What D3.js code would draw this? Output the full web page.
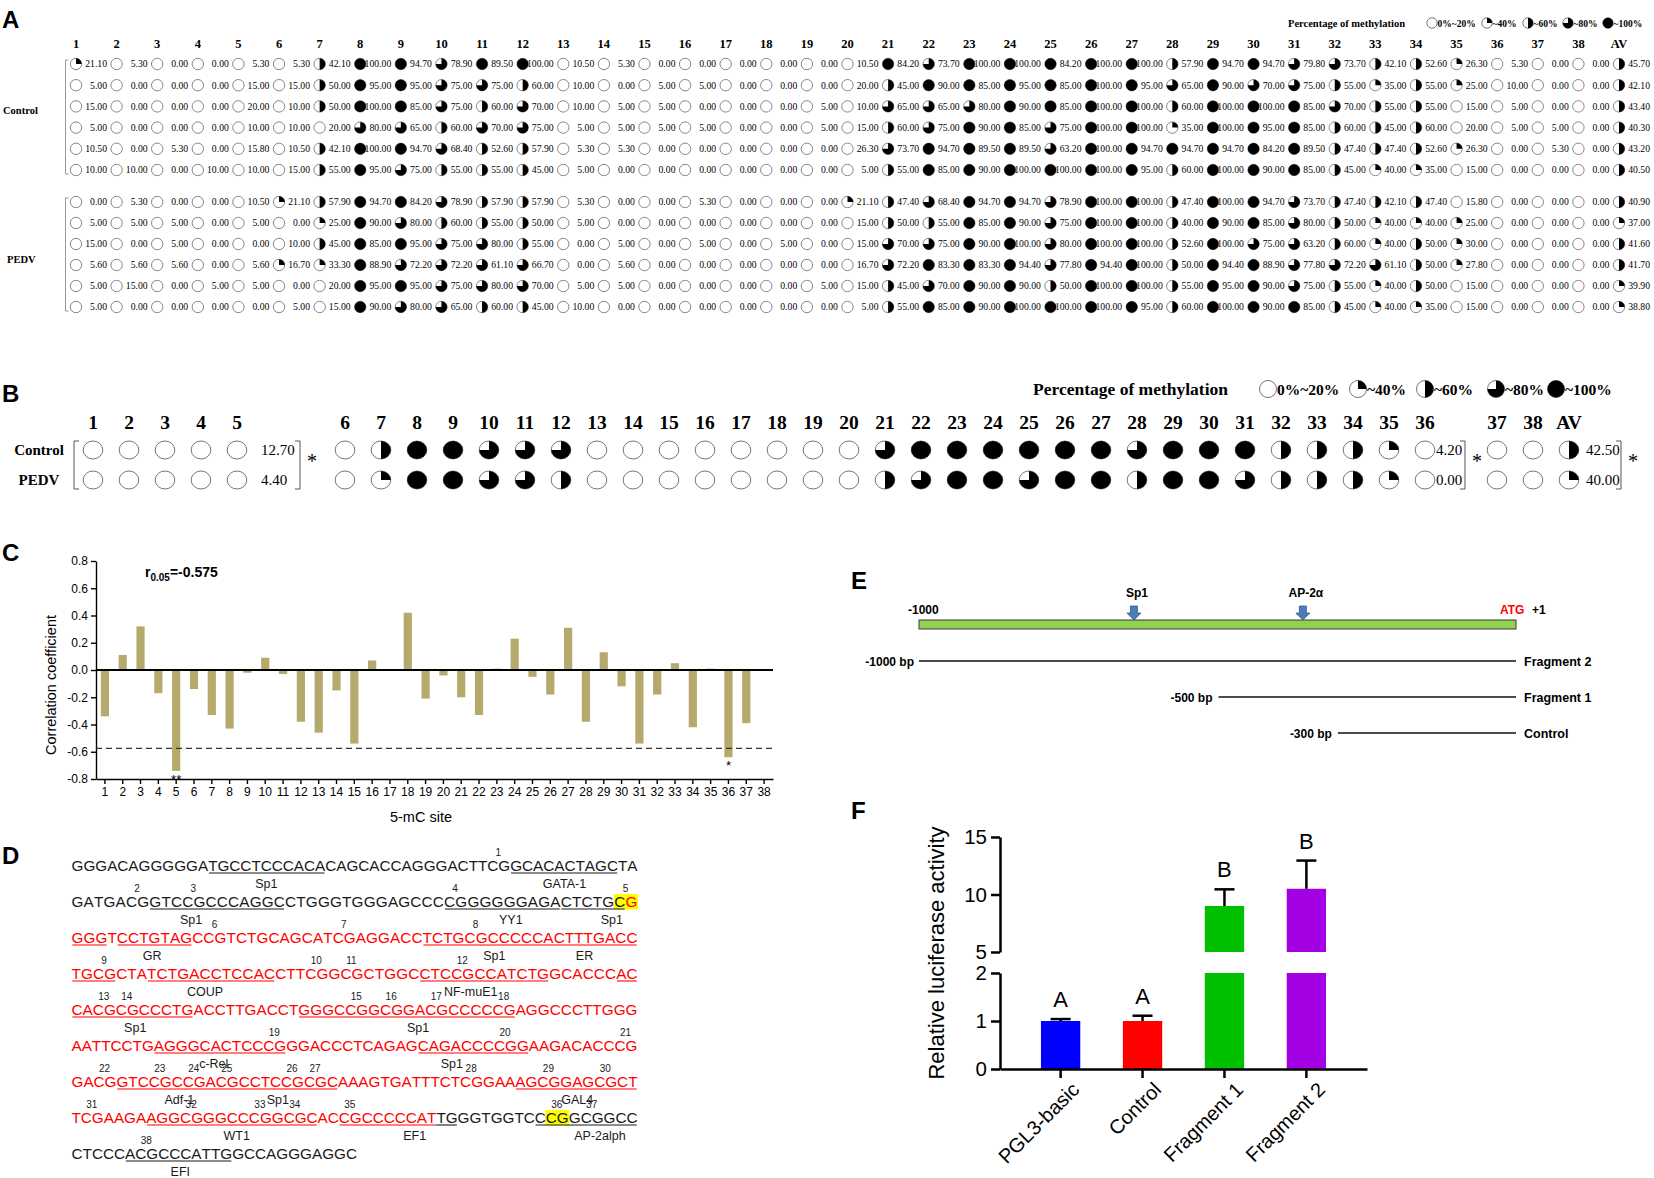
<!DOCTYPE html>
<html><head><meta charset="utf-8">
<script src="https://cdn.jsdelivr.net/npm/d3@7/dist/d3.min.js"></script>
<style>body{margin:0;background:#fff}svg{display:block}</style>
</head><body>
<svg id="fig" width="1654" height="1178"></svg>
<script>
// ================= DATA =================
// Panel A
const aSites = ["1","2","3","4","5","6","7","8","9","10","11","12","13","14","15","16","17","18","19","20","21","22","23","24","25","26","27","28","29","30","31","32","33","34","35","36","37","38","AV"];
const controlRows = [
[21.10,5.30,0,0,5.30,5.30,42.10,100,94.70,78.90,89.50,100,10.50,5.30,0,0,0,0,0,10.50,84.20,73.70,100,100,84.20,100,100,57.90,94.70,94.70,79.80,73.70,42.10,52.60,26.30,5.30,0,0,45.70],
[5,0,0,0,15,15,50,95,95,75,75,60,10,0,5,5,0,0,0,20,45,90,85,95,85,100,95,65,90,70,75,55,35,55,25,10,0,0,42.10],
[15,0,0,0,20,10,50,100,85,75,60,70,10,5,5,0,0,0,5,10,65,65,80,90,85,100,100,60,100,100,85,70,55,55,15,5,0,0,43.40],
[5,0,0,0,10,10,20,80,65,60,70,75,5,5,5,5,0,0,5,15,60,75,90,85,75,100,100,35,100,95,85,60,45,60,20,5,5,0,40.30],
[10.50,0,5.30,0,15.80,10.50,42.10,100,94.70,68.40,52.60,57.90,5.30,5.30,0,0,0,0,0,26.30,73.70,94.70,89.50,89.50,63.20,100,94.70,94.70,94.70,84.20,89.50,47.40,47.40,52.60,26.30,0,5.30,0,43.20],
[10,10,0,10,10,15,55,95,75,55,55,45,5,0,0,0,0,0,0,5,55,85,90,100,100,100,95,60,100,90,85,45,40,35,15,0,0,0,40.50]
];
const pedvRows = [
[0,5.30,0,0,10.50,21.10,57.90,94.70,84.20,78.90,57.90,57.90,5.30,0,0,5.30,0,0,0,21.10,47.40,68.40,94.70,94.70,78.90,100,100,47.40,100,94.70,73.70,47.40,42.10,47.40,15.80,0,0,0,40.90],
[5,5,5,0,5,0,25,90,80,60,55,50,5,0,0,0,0,0,0,15,50,55,85,90,75,100,100,40,90,85,80,50,40,40,25,0,0,0,37.00],
[15,0,5,0,0,10,45,85,95,75,80,55,0,5,0,5,0,5,0,15,70,75,90,100,80,100,100,52.60,100,75,63.20,60,40,50,30,0,0,0,41.60],
[5.60,5.60,5.60,0,5.60,16.70,33.30,88.90,72.20,72.20,61.10,66.70,0,5.60,0,0,0,0,0,16.70,72.20,83.30,83.30,94.40,77.80,94.40,100,50,94.40,88.90,77.80,72.20,61.10,50,27.80,0,0,0,41.70],
[5,15,0,5,5,0,20,95,95,75,80,70,5,5,0,0,0,0,5,15,45,70,90,90,50,100,100,55,95,90,75,55,40,50,15,0,0,0,39.90],
[5,0,0,0,0,5,15,90,80,65,60,45,10,0,0,0,0,0,0,5,55,85,90,100,100,100,95,60,100,90,85,45,40,35,15,0,0,0,38.80]
];
// glyph drawn differently from the legend rule in the original: [group,row,col,level]
const glyphOverrides = [["control",4,19,0],["pedv",3,5,1],["pedv",1,27,2]];
const legendLabels = ["0%~20%","~40%","~60%","~80%","~100%"];
const legendLevels = [0,1,2,3,4];

// Panel B (glyph levels 0..4)
const bSites = aSites;
const bControlLevels = [0,0,0,0,0, 0,2,4,4,3,3,3, 0,0,0,0,0,0,0,0, 3,4,4,4,4,4,4,3,4,4,4, 2,2,2,1,0, 0,0, 2];
const bPedvLevels    = [0,0,0,0,0, 0,1,4,4,3,3,2, 0,0,0,0,0,0,0,0, 2,3,4,4,3,4,4,2,4,4,3, 2,2,2,1,0, 0,0, 1];
const bValueSites = ["5","36","AV"];
const bControlValues = ["12.70","4.20","42.50"];
const bPedvValues = ["4.40","0.00","40.00"];

// Panel C
const corrSites = d3.range(1,39).map(String);
const corrValues = [-0.34,0.11,0.32,-0.17,-0.74,-0.14,-0.33,-0.43,-0.02,0.09,-0.03,-0.38,-0.46,-0.15,-0.54,0.07,0,0.42,-0.21,-0.04,-0.20,-0.33,0.01,0.23,-0.05,-0.18,0.31,-0.38,0.13,-0.12,-0.54,-0.18,0.05,-0.42,0.01,-0.64,-0.39,0];
const corrTicks = [-0.8,-0.6,-0.4,-0.2,0,0.2,0.4,0.6,0.8];
const corrThreshold = -0.575;
const corrMarkSites = ["5","36"];
const corrMarks = ["**","*"];

// Panel D
const seqLines = [
"GGGACAGGGGGATGCCTCCCACACAGCACCAGGGACTTCGGCACACTAGCTA",
"GATGACGGTCCGCCCAGGCCTGGGTGGGAGCCCCGGGGGGAGACTCTGCG",
"GGGTCCTGTAGCCGTCTGCAGCATCGAGGACCTCTGCGCCCCCACTTTGACC",
"TGCGCTATCTGACCTCCACCTTCGGCGCTGGCCTCCGCCATCTGGCACCCAC",
"CACGCGCCCTGACCTTGACCTGGGCCGGCGGACGCCCCCGAGGCCCTTGGG",
"AATTCCTGAGGGCACTCCCGGGACCCTCAGAGCAGACCCCGGAAGACACCCG",
"GACGGTCCGCCGACGCCTCCGCGCAAAGTGATTTCTCGGAAAGCGGAGCGCT",
"TCGAAGAAGGCGGGCCCGGCGCACCGCCCCCATTGGGTGGTCCCGGCGGCC",
"CTCCCACGCCCATTGGCCAGGGAGGC"];
const seqRed = [null,[49,49],[0,51],[0,51],[0,50],[0,51],[0,51],[0,32],null];
const seqUnderlines = [
[[12,22],[40,49]],
[[7,18],[33,42],[43,48]],
[[0,2],[4,10],[32,51]],
[[0,3],[7,18],[32,43],[50,51]],
[[0,10],[21,39]],
[[8,19],[32,41]],
[[4,23],[41,51]],
[[7,21],[24,34],[42,50]],
[[5,14]]];
const seqHighlights = [[],[[48,49]],[],[],[],[],[],[[43,44]],[]];
const seqSites = [
[[38,1]],
[[5,2],[10,3],[33,4],[48,5]],
[[12,6],[24,7],[36,8]],
[[2,9],[22,10],[25,11],[35,12]],
[[2,13],[4,14],[25,15],[28,16],[32,17],[38,18]],
[[18,19],[39,20],[50,21]],
[[2,22],[7,23],[10,24],[13,25],[19,26],[21,27],[36,28],[43,29],[48,30]],
[[1,31],[10,32],[16,33],[19,34],[24,35],[43,36],[46,37]],
[[6,38]]];
const seqLabels = [
[[17.5,"Sp1"],[45,"GATA-1"]],
[[10.8,"Sp1"],[38.6,"YY1"],[47.8,"Sp1"]],
[[7.3,"GR"],[38.6,"Sp1"],[47.1,"ER"]],
[[12.5,"COUP"],[36.7,"NF-muE1"]],
[[5.7,"Sp1"],[31.3,"Sp1"]],
[[13.3,"c-Rel"],[35.1,"Sp1"]],
[[9.7,"Adf-1"],[18.7,"Sp1"],[46.5,"GAL4"]],
[[14.9,"WT1"],[30.8,"EF1"],[47.7,"AP-2alph"]],
[[10,"EFI"]]];

// Panel E
const promoterDomain = [-1000, 0];
const motifNames = ["Sp1","AP-2\u03b1"];
const motifPositions = [-640,-357];
const fragmentNames = ["Fragment 2","Fragment 1","Control"];
const fragmentStarts = [-1000,-500,-300];
const fragmentStartLabels = ["-1000 bp","-500 bp","-300 bp"];

// Panel F
const lucGroups = ["PGL3-basic","Control","Fragment 1","Fragment 2"];
const lucMeans = [1.0,1.0,9.0,10.5];
const lucErrors = [0.04,0.11,1.45,2.45];
const lucLetters = ["A","A","B","B"];
const lucColors = ["#0000ff","#ff0000","#00c000","#a300e3"];
const lucLowTicks = [0,1,2];
const lucHighTicks = [5,10,15];

// ================= DRAWING =================
const SANS = "'Liberation Sans', Arial, Helvetica, sans-serif";
const SERIF = "'Liberation Serif', 'Times New Roman', serif";
const svg = d3.select("#fig");
svg.append("rect").attr("width",1654).attr("height",1178).attr("fill","#fff");

function levelOf(v){ return v<=20?0 : v<=40?1 : v<=60?2 : v<=80?3 : 4; }
const arcGen = d3.arc();
function glyph(g, x, y, rx, ry, level, stroke){
  const gg = g.append("g").attr("transform",`translate(${x},${y}) scale(${rx},${ry})`);
  gg.append("circle").attr("r",1).attr("fill","#fff").attr("stroke",stroke)
    .attr("stroke-width",1).attr("vector-effect","non-scaling-stroke");
  if(level>0){
    gg.append("path").attr("d",arcGen({innerRadius:0,outerRadius:1,startAngle:0,endAngle:level*Math.PI/2}))
      .attr("fill","#000");
  }
}
function panelLabel(t,x,y){
  svg.append("text").attr("x",x).attr("y",y).text(t)
    .attr("font-family",SANS).attr("font-weight","bold").attr("font-size",24).attr("fill","#000");
}

// ---------- Panel A ----------
(function(){
  const g = svg.append("g");
  panelLabel("A",2,28);
  const x = d3.scalePoint().domain(aSites).range([76,1619]);
  const yC = d3.scalePoint().domain(d3.range(6)).range([64,170]);
  const yP = d3.scalePoint().domain(d3.range(6)).range([202,307]);
  g.selectAll("text.h").data(aSites).join("text")
    .attr("x",d=>x(d)).attr("y",48).attr("text-anchor","middle")
    .attr("font-family",SERIF).attr("font-weight","bold").attr("font-size",12.5).text(d=>d);
  g.append("text").attr("x",1288).attr("y",26.5).text("Percentage of methylation")
    .attr("font-family",SERIF).attr("font-weight","bold").attr("font-size",10.5);
  const lgx = [1432,1487,1528,1568,1608];
  legendLevels.forEach((lv,i)=>{
    glyph(g,lgx[i],23,5.2,5.2,lv,"#777");
    g.append("text").attr("x",lgx[i]+5.5).attr("y",26.5).text(legendLabels[i])
      .attr("font-family",SERIF).attr("font-weight","bold").attr("font-size",9.5);
  });
  function drawGroup(rows, yS, name){
    rows.forEach((row,ri)=>{
      row.forEach((v,ci)=>{
        let lv = levelOf(v);
        glyphOverrides.forEach(o=>{ if(o[0]===name && o[1]===ri && o[2]===ci) lv=o[3]; });
        const cx = x(aSites[ci]), cy = yS(ri);
        glyph(g,cx,cy,5.7,5.7,lv,"#888");
        g.append("text").attr("x",cx+31).attr("y",cy+3.4).attr("text-anchor","end")
          .attr("font-family",SERIF).attr("font-size",9.7).text(v.toFixed(2));
      });
    });
  }
  drawGroup(controlRows,yC,"control");
  drawGroup(pedvRows,yP,"pedv");
  g.append("text").attr("x",3).attr("y",114).text("Control")
    .attr("font-family",SERIF).attr("font-weight","bold").attr("font-size",10.5);
  g.append("text").attr("x",7).attr("y",263).text("PEDV")
    .attr("font-family",SERIF).attr("font-weight","bold").attr("font-size",10.5);
  [[yC(0)-4,yC(5)+4],[yP(0)-4,yP(5)+4]].forEach(([a,b])=>{
    g.append("path").attr("d",`M68.5,${a}H65.5V${b}H68.5`).attr("fill","none").attr("stroke","#999").attr("stroke-width",1);
  });
})();

// ---------- Panel B ----------
(function(){
  const g = svg.append("g");
  panelLabel("B",2,402);
  const slots = ["1","2","3","4","5","g1","g2"].concat(d3.range(6,37).map(String)).concat(["g3","37","38","AV"]);
  const x = d3.scalePoint().domain(slots).range([93,1569]);
  const yRow = d3.scalePoint().domain(["Control","PEDV"]).range([450,480]);
  g.selectAll("text.h").data(bSites).join("text")
    .attr("x",d=>x(d)).attr("y",429).attr("text-anchor","middle")
    .attr("font-family",SERIF).attr("font-weight","bold").attr("font-size",19.5).text(d=>d);
  g.append("text").attr("x",1033).attr("y",395).text("Percentage of methylation")
    .attr("font-family",SERIF).attr("font-weight","bold").attr("font-size",17.5);
  const lgx = [1268,1358,1425,1496,1556];
  legendLevels.forEach((lv,i)=>{
    glyph(g,lgx[i],389,8.5,8.5,lv,"#777");
    g.append("text").attr("x",lgx[i]+9).attr("y",395).text(legendLabels[i])
      .attr("font-family",SERIF).attr("font-weight","bold").attr("font-size",15.5);
  });
  [["Control",bControlLevels,bControlValues],["PEDV",bPedvLevels,bPedvValues]].forEach(([name,lv,vals])=>{
    const cy = yRow(name);
    bSites.forEach((s,i)=> glyph(g,x(s),cy,9.8,9,lv[i],"#777"));
    g.append("text").attr("x",39).attr("y",cy+5).attr("text-anchor","middle").text(name)
      .attr("font-family",SERIF).attr("font-weight","bold").attr("font-size",15);
    const off = {"5":24,"36":11,"AV":17};
    bValueSites.forEach((s,i)=>{
      g.append("text").attr("x",x(s)+off[s]).attr("y",cy+5).text(vals[i])
        .attr("font-family",SERIF).attr("font-size",15);
    });
  });
  const top = yRow("Control")-9, bot = yRow("PEDV")+9;
  g.append("path").attr("d",`M79,${top}H74V${bot}H79`).attr("fill","none").attr("stroke","#555").attr("stroke-width",1);
  [x("5")+63, x("36")+40, x("AV")+52].forEach(bx=>{
    g.append("path").attr("d",`M${bx-5},${top}H${bx}V${bot}H${bx-5}`).attr("fill","none").attr("stroke","#555").attr("stroke-width",1);
    g.append("text").attr("x",bx+12).attr("y",top+27).attr("text-anchor","middle").text("*")
      .attr("font-family",SERIF).attr("font-size",20);
  });
})();

// ---------- Panel C ----------
(function(){
  const g = svg.append("g");
  panelLabel("C",2,561);
  const x = d3.scaleBand().domain(corrSites).range([96,773]).paddingInner(0.54).paddingOuter(0.27);
  const y = d3.scaleLinear().domain([-0.8,0.8]).range([779,561]);
  g.selectAll("rect.bar").data(corrValues).join("rect")
    .attr("x",(d,i)=>x(corrSites[i])).attr("width",x.bandwidth())
    .attr("y",d=>y(Math.max(0,d))).attr("height",d=>Math.abs(y(d)-y(0)))
    .attr("fill","#b6a96c");
  const ya = g.append("g").attr("transform","translate(96,0)")
    .call(d3.axisLeft(y).tickValues(corrTicks).tickFormat(d=>d.toFixed(1)).tickSize(5).tickSizeOuter(0));
  const xa = g.append("g").attr("transform",`translate(0,${y(-0.8)})`)
    .call(d3.axisBottom(x).tickSize(5).tickSizeOuter(0));
  [ya,xa].forEach(a=>{
    a.selectAll("path,line").attr("stroke","#000").attr("stroke-width",1.4);
    a.selectAll("text").attr("font-family",SANS).attr("font-size",12).attr("fill","#000");
  });
  g.append("line").attr("x1",96).attr("x2",773).attr("y1",y(0)).attr("y2",y(0)).attr("stroke","#000").attr("stroke-width",2);
  g.append("line").attr("x1",96).attr("x2",773).attr("y1",y(corrThreshold)).attr("y2",y(corrThreshold))
    .attr("stroke","#333").attr("stroke-width",1.3).attr("stroke-dasharray","6,4");
  corrMarkSites.forEach((s,i)=>{
    const v = corrValues[corrSites.indexOf(s)];
    g.append("text").attr("x",x(s)+x.bandwidth()/2).attr("y",y(v)+13).attr("text-anchor","middle")
      .attr("font-family",SANS).attr("font-size",13).text(corrMarks[i]);
  });
  const t = g.append("text").attr("x",145).attr("y",577).attr("font-family",SANS).attr("font-weight","bold").attr("font-size",14);
  t.append("tspan").text("r");
  t.append("tspan").attr("dy",4).attr("font-size",10).text("0.05");
  t.append("tspan").attr("dy",-4).text("=-0.575");
  g.append("text").attr("transform","translate(56,685) rotate(-90)").attr("text-anchor","middle")
    .attr("font-family",SANS).attr("font-size",14.5).text("Correlation coefficient");
  g.append("text").attr("x",421).attr("y",822).attr("text-anchor","middle")
    .attr("font-family",SANS).attr("font-size",14.5).text("5-mC site");
})();

// ---------- Panel D ----------
(function(){
  const g = svg.append("g");
  panelLabel("D",2,864);
  const FS = 15.3, x0 = 71.5, fullW = 566, y0 = 865, step = 36;
  const tmp = svg.append("text").attr("font-family",SANS).attr("font-size",FS);
  const cw = {};
  "ACGT".split("").forEach(c=>{ tmp.text(c.repeat(10)); cw[c] = tmp.node().getComputedTextLength()/10; });
  tmp.remove();
  seqLines.forEach((str,li)=>{
    const cy = y0 + li*step, base = cy + 5.5;
    const w = str.split("").map(c=>cw[c]);
    const nat = d3.sum(w);
    const extra = str.length>=50 ? (fullW-nat)/(str.length-1) : 0;
    const pos = []; let acc = x0;
    w.forEach((ww,i)=>{ pos.push(acc); acc += ww + extra; });
    const red = seqRed[li];
    const colorOf = i => (red && i>=red[0] && i<=red[1]) ? "#ff0000" : "#1a1a1a";
    seqHighlights[li].forEach(([a,b])=>{
      g.append("rect").attr("x",pos[a]-0.5).attr("width",pos[b]+w[b]-pos[a]+1)
        .attr("y",base-12.5).attr("height",15.5).attr("fill","#ffff00");
    });
    const t = g.append("text").attr("y",base).attr("font-family",SANS).attr("font-size",FS);
    let runStart = 0;
    for(let i=1;i<=str.length;i++){
      if(i===str.length || colorOf(i)!==colorOf(runStart)){
        t.append("tspan").attr("x",pos.slice(runStart,i).join(" ")).attr("fill",colorOf(runStart))
          .text(str.slice(runStart,i));
        runStart = i;
      }
    }
    seqUnderlines[li].forEach(([a,b])=>{
      let s = a;
      for(let i=a+1;i<=b+1;i++){
        if(i===b+1 || colorOf(i)!==colorOf(s)){
          const xa = pos[s] + (s===a?0.8:0), xb = pos[i-1]+w[i-1] - (i===b+1?0.8:0);
          g.append("line").attr("x1",xa).attr("x2",xb).attr("y1",base+2.5).attr("y2",base+2.5)
            .attr("stroke",colorOf(s)).attr("stroke-width",1.1);
          s = i;
        }
      }
    });
    seqSites[li].forEach(([ci,n])=>{
      g.append("text").attr("x",pos[ci]+w[ci]).attr("y",cy-9).attr("text-anchor","middle")
        .attr("font-family",SANS).attr("font-size",10).attr("fill","#1a1a1a").text(n);
    });
    seqLabels[li].forEach(([p,txt])=>{
      const k = Math.floor(p), f = p-k;
      const lx = pos[Math.min(k,pos.length-1)] + f*w[Math.min(k,w.length-1)];
      g.append("text").attr("x",lx).attr("y",cy+23).attr("text-anchor","middle")
        .attr("font-family",SANS).attr("font-size",12.5).attr("fill","#1a1a1a").text(txt);
    });
  });
})();

// ---------- Panel E ----------
(function(){
  const g = svg.append("g");
  panelLabel("E",851,589);
  const x = d3.scaleLinear().domain(promoterDomain).range([919,1516]);
  g.append("rect").attr("x",x(-1000)).attr("y",620).attr("width",x(0)-x(-1000)).attr("height",9)
    .attr("fill","#92d050").attr("stroke","#3a3a3a").attr("stroke-width",1);
  motifPositions.forEach((p,i)=>{
    const cx = x(p), a = 606, b = 620;
    g.append("path").attr("d",`M${cx-3.5},${a}H${cx+3.5}V${a+7}H${cx+7}L${cx},${b}L${cx-7},${a+7}H${cx-3.5}Z`)
      .attr("fill","#4a7ebb").attr("stroke","#2e5a8f").attr("stroke-width",0.8);
    g.append("text").attr("x",cx+3).attr("y",597).attr("text-anchor","middle")
      .attr("font-family",SANS).attr("font-weight","bold").attr("font-size",12).text(motifNames[i]);
  });
  g.append("text").attr("x",908).attr("y",614).attr("font-family",SANS).attr("font-weight","bold").attr("font-size",12).text("-1000");
  g.append("text").attr("x",1500).attr("y",614).attr("font-family",SANS).attr("font-weight","bold").attr("font-size",12).attr("fill","#ff0000").text("ATG");
  g.append("text").attr("x",1532).attr("y",614).attr("font-family",SANS).attr("font-weight","bold").attr("font-size",12).text("+1");
  const ly = d3.scalePoint().domain(fragmentNames).range([661,733]);
  fragmentNames.forEach((n,i)=>{
    const yy = ly(n);
    g.append("line").attr("x1",x(fragmentStarts[i])+(i===0?0:1)).attr("x2",x(0)).attr("y1",yy).attr("y2",yy)
      .attr("stroke","#111").attr("stroke-width",1.5);
    g.append("text").attr("x",x(fragmentStarts[i])-5).attr("y",yy+4.5).attr("text-anchor","end")
      .attr("font-family",SANS).attr("font-weight","bold").attr("font-size",12).text(fragmentStartLabels[i]);
    g.append("text").attr("x",x(0)+8).attr("y",yy+4.5)
      .attr("font-family",SANS).attr("font-weight","bold").attr("font-size",12.5).text(n);
  });
})();

// ---------- Panel F ----------
(function(){
  const g = svg.append("g");
  panelLabel("F",851,819);
  const x = d3.scaleBand().domain(lucGroups).range([1000,1367]).paddingInner(0.52).paddingOuter(0.5);
  const yLo = d3.scaleLinear().domain([0,2]).range([1069,973]);
  const yHi = d3.scaleLinear().domain([5,15]).range([952,837]);
  lucGroups.forEach((grp,i)=>{
    const m = lucMeans[i], e = lucErrors[i], bx = x(grp), bw = x.bandwidth(), cx = bx+bw/2;
    let top;
    if(m<=2){
      g.append("rect").attr("x",bx).attr("width",bw).attr("y",yLo(m)).attr("height",yLo(0)-yLo(m)).attr("fill",lucColors[i]);
      top = yLo(m+e);
      g.append("line").attr("x1",cx).attr("x2",cx).attr("y1",yLo(m)).attr("y2",top).attr("stroke","#000").attr("stroke-width",2.5);
    } else {
      g.append("rect").attr("x",bx).attr("width",bw).attr("y",yLo(2)).attr("height",yLo(0)-yLo(2)).attr("fill",lucColors[i]);
      g.append("rect").attr("x",bx).attr("width",bw).attr("y",yHi(m)).attr("height",yHi(5)-yHi(m)).attr("fill",lucColors[i]);
      top = yHi(m+e);
      g.append("line").attr("x1",cx).attr("x2",cx).attr("y1",yHi(m)).attr("y2",top).attr("stroke","#000").attr("stroke-width",2.5);
    }
    g.append("line").attr("x1",cx-10).attr("x2",cx+10).attr("y1",top).attr("y2",top).attr("stroke","#000").attr("stroke-width",2.5);
    g.append("text").attr("x",cx).attr("y",top-12).attr("text-anchor","middle")
      .attr("font-family",SANS).attr("font-size",22).text(lucLetters[i]);
  });
  const fmt = d3.format("d");
  const aLo = g.append("g").attr("transform","translate(1000,0)").call(d3.axisLeft(yLo).tickValues(lucLowTicks).tickFormat(fmt).tickSize(9).tickSizeOuter(0));
  const aHi = g.append("g").attr("transform","translate(1000,0)").call(d3.axisLeft(yHi).tickValues(lucHighTicks).tickFormat(fmt).tickSize(9).tickSizeOuter(0));
  const aX = g.append("g").attr("transform","translate(0,1069)").call(d3.axisBottom(x).tickSize(9).tickSizeOuter(0));
  [aLo,aHi,aX].forEach(a=>{
    a.selectAll("path,line").attr("stroke","#000").attr("stroke-width",2.5);
    a.selectAll("text").attr("font-family",SANS).attr("font-size",20.5).attr("fill","#000");
  });
  aLo.selectAll("text").attr("x",-13);
  aHi.selectAll("text").attr("x",-13);
  aX.selectAll("text").remove();
  lucGroups.forEach(grp=>{
    const cx = x(grp)+x.bandwidth()/2;
    g.append("text").attr("transform",`translate(${cx+15},${1086}) rotate(-45)`).attr("text-anchor","end")
      .attr("dy","0.35em").attr("font-family",SANS).attr("font-size",20).text(grp);
  });
  g.append("text").attr("transform","translate(944,953) rotate(-90)").attr("text-anchor","middle")
    .attr("font-family",SANS).attr("font-size",22).text("Relative luciferase activity");
})();
</script>
</body></html>
